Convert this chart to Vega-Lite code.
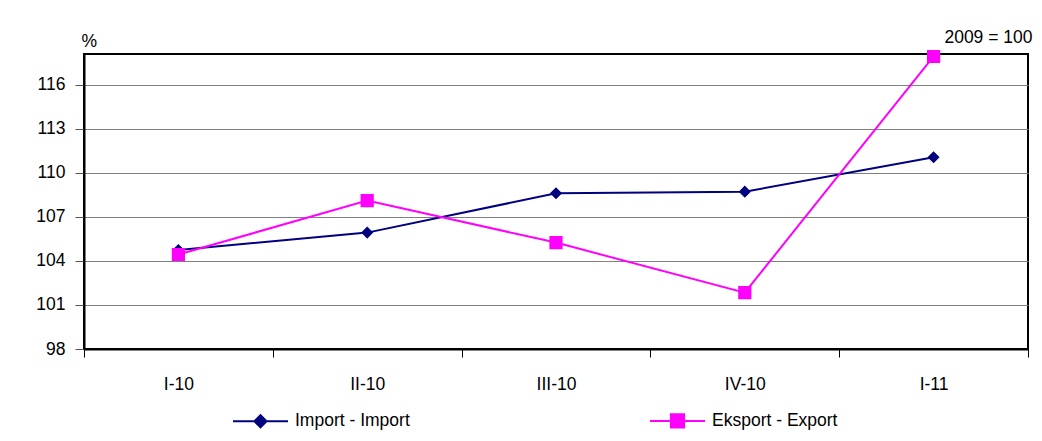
{
  "$schema": "https://vega.github.io/schema/vega-lite/v6.json",
  "autosize": {"type": "none"},
  "width": 944,
  "height": 295,
  "padding": {"left": 84, "top": 54, "right": 14, "bottom": 92},
  "background": "white",
  "config": {
    "font": "Liberation Sans",
    "view": {"stroke": "#000000", "strokeWidth": 2},
    "axis": {"labelFont": "Liberation Sans", "labelFontSize": 17.5, "labelColor": "#000000", "titleFont": "Liberation Sans", "titleFontWeight": "normal", "titleColor": "#000000"},
    "legend": {"labelFont": "Liberation Sans", "labelFontSize": 17.5, "labelColor": "#000000"}
  },
  "title": {"text": "2009 = 100", "anchor": "end", "orient": "top", "offset": 10, "baseline": "alphabetic", "dx": 4, "dy": 38, "fontSize": 17.5, "fontWeight": "normal", "font": "Liberation Sans", "color": "#000000"},
  "data": {
    "values": [
      {"period": "I-10", "series": "Import - Import", "value": 104.75},
      {"period": "II-10", "series": "Import - Import", "value": 105.93},
      {"period": "III-10", "series": "Import - Import", "value": 108.61},
      {"period": "IV-10", "series": "Import - Import", "value": 108.72},
      {"period": "I-11", "series": "Import - Import", "value": 111.07},
      {"period": "I-10", "series": "Eksport - Export", "value": 104.44},
      {"period": "II-10", "series": "Eksport - Export", "value": 108.11},
      {"period": "III-10", "series": "Eksport - Export", "value": 105.25},
      {"period": "IV-10", "series": "Eksport - Export", "value": 101.84},
      {"period": "I-11", "series": "Eksport - Export", "value": 117.93}
    ]
  },
  "encoding": {
    "x": {
      "field": "period", "type": "ordinal", "sort": ["I-10", "II-10", "III-10", "IV-10", "I-11"],
      "bandPosition": 0.5,
      "scale": {"type": "band", "paddingInner": 0, "paddingOuter": 0},
      "axis": {"title": null, "labelAngle": 0, "tickBand": "extent", "tickSize": 8, "tickColor": "#000000", "tickWidth": 1, "domainColor": "#000000", "domainWidth": 2, "labelPadding": 18, "grid": false}
    },
    "y": {
      "field": "value", "type": "quantitative",
      "scale": {"domain": [98, 118.1], "nice": false, "zero": false},
      "axis": {"title": "%", "titleAngle": 0, "titleAlign": "left", "titleBaseline": "alphabetic", "titleX": -3, "titleY": -8, "titleFontSize": 17.5, "values": [98, 101, 104, 107, 110, 113, 116], "tickSize": 9, "tickColor": "#555555", "tickWidth": 1, "domainColor": "#000000", "domainWidth": 2, "labelPadding": 10, "grid": true, "gridColor": "#808080", "gridWidth": 1}
    },
    "color": {
      "field": "series", "type": "nominal",
      "scale": {"domain": ["Import - Import", "Eksport - Export"], "range": ["#000080", "#FF00FF"]},
      "legend": {
        "title": null, "orient": "none", "direction": "horizontal", "legendX": 148, "legendY": 338,
        "symbolSize": 3025, "symbolStrokeWidth": 2, "labelOffset": 6, "columnPadding": 236, "labelFontSize": 17.5,
        "encode": {"symbols": {"update": {"stroke": {"scale": "color", "field": "value"}, "strokeWidth": {"value": 2}}}}
      }
    },
    "shape": {
      "field": "series", "type": "nominal",
      "scale": {"domain": ["Import - Import", "Eksport - Export"], "range": ["M-1,0L1,0M0,-0.22L0.22,0L0,0.22L-0.22,0Z", "M-1,0L1,0M-0.24,-0.24L0.24,-0.24L0.24,0.24L-0.24,0.24Z"]},
      "legend": {
        "title": null, "orient": "none", "direction": "horizontal", "legendX": 148, "legendY": 338,
        "symbolSize": 3025, "symbolStrokeWidth": 2, "labelOffset": 6, "columnPadding": 236, "labelFontSize": 17.5,
        "encode": {"symbols": {"update": {"stroke": {"scale": "color", "field": "value"}, "strokeWidth": {"value": 2}}}}
      }
    }
  },
  "layer": [
    {"mark": {"type": "line", "strokeWidth": 2}, "encoding": {"shape": {"value": null}}},
    {"mark": {"type": "point", "filled": true, "opacity": 1, "size": 3025, "strokeWidth": 0}}
  ]
}
